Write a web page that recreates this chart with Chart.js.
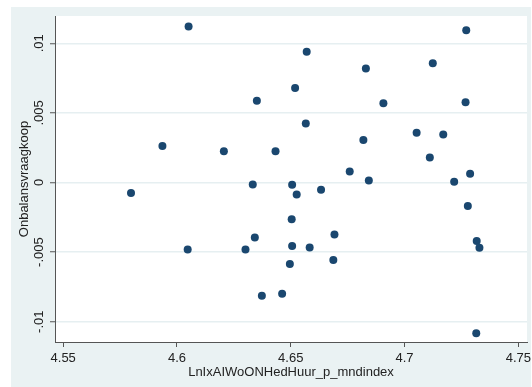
<!DOCTYPE html>
<html>
<head>
<meta charset="utf-8">
<script src="https://cdn.jsdelivr.net/npm/chart.js@4/dist/chart.umd.min.js"></script>
<style>
  html, body { margin: 0; padding: 0; background: #fff; }
  #wrap { width: 532px; height: 387px; }
</style>
</head>
<body>
<div id="wrap"><canvas id="scatterChart" width="532" height="387"></canvas></div>
<script>
// data
const xValues = [4.6051, 4.5798, 4.5936, 4.6206, 4.6351, 4.6333, 4.6433, 4.7271, 4.6570, 4.6830,
                 4.7124, 4.6519, 4.6907, 4.7268, 4.6566, 4.7053, 4.7170, 4.6819, 4.7111, 4.6759,
                 4.6843, 4.7288, 4.7218, 4.6506, 4.6526, 4.6633, 4.6047, 4.6301, 4.6342, 4.6373,
                 4.7278, 4.6504, 4.6692, 4.7317, 4.7329, 4.6506, 4.6583, 4.6496, 4.6687, 4.6462,
                 4.7315];
const yValues = [0.01121, -0.00076, 0.00262, 0.00224, 0.00588, -0.00014, 0.00224, 0.01093, 0.00940, 0.00819,
                 0.00857, 0.00678, 0.00569, 0.00576, 0.00424, 0.00357, 0.00345, 0.00305, 0.00179, 0.00079,
                 0.00014, 0.00062, 0.00005, -0.00017, -0.00086, -0.00052, -0.00481, -0.00481, -0.00395, -0.00814,
                 -0.00169, -0.00264, -0.00374, -0.00421, -0.00469, -0.00457, -0.00467, -0.00586, -0.00557, -0.00800,
                 -0.01083];

const xTickValues = [4.55, 4.6, 4.65, 4.7, 4.75];
const xTickLabels = ["4.55", "4.6", "4.65", "4.7", "4.75"];
const yTickValues = [-0.01, -0.005, 0, 0.005, 0.01];
const yTickLabels = ["-.01", "-.005", "0", ".005", ".01"];

const xTitle = "LnIxAIWoONHedHuur_p_mndindex";
const yTitle = "Onbalansvraagkoop";

const axisColor = "#555";
const gridColor = "#e6eff1";
const dotColor = "#1a476f";
const textColor = "#222";
const fontFamily = "'Liberation Sans', Arial, sans-serif";

const points = xValues.map((x, i) => ({ x: x, y: yValues[i] }));

// stata-like background: light outer region, white plot region
const bgPlugin = {
    id: "bg",
    beforeDraw(chart) {
        const c = chart.ctx;
        const a = chart.chartArea;
        c.save();
        c.fillStyle = "#fff";
        c.fillRect(0, 0, chart.width, chart.height);
        c.fillStyle = "#eaf2f3";
        c.fillRect(11, 7, 520, 380);
        c.fillStyle = "#fff";
        c.fillRect(a.left, a.top, a.right - a.left, a.bottom - a.top);
        c.restore();
    }
};

new Chart(document.getElementById("scatterChart").getContext("2d"), {
    type: "scatter",
    data: {
        datasets: [{
            data: points,
            backgroundColor: dotColor,
            borderColor: dotColor,
            borderWidth: 0,
            pointRadius: 4,
            pointHoverRadius: 4
        }]
    },
    options: {
        responsive: false,
        animation: false,
        events: [],
        layout: { padding: { top: 16, right: 5, bottom: 0, left: 0 } },
        scales: {
            x: {
                type: "linear",
                min: 4.5464,
                max: 4.7538,
                afterBuildTicks: (s) => { s.ticks = xTickValues.map(v => ({ value: v })); },
                afterFit: (s) => { s.height = 45; s.paddingLeft = 0; s.paddingRight = 0; },
                ticks: {
                    callback: (v, i) => xTickLabels[i],
                    color: textColor,
                    font: { family: fontFamily, size: 13 },
                    padding: 4,
                    maxRotation: 0,
                    minRotation: 0
                },
                grid: { drawOnChartArea: false, drawTicks: true, tickLength: 5, tickColor: axisColor, tickWidth: 1 },
                border: { display: true, color: axisColor, width: 1 },
                title: {
                    display: true, text: xTitle, color: textColor,
                    font: { family: fontFamily, size: 13 },
                    padding: { top: 0, bottom: 7 }
                }
            },
            y: {
                type: "linear",
                min: -0.011458,
                max: 0.011961,
                afterBuildTicks: (s) => { s.ticks = yTickValues.map(v => ({ value: v })); },
                afterFit: (s) => { s.width = 55; s.paddingTop = 0; s.paddingBottom = 0; },
                ticks: {
                    callback: (v, i) => yTickLabels[i],
                    color: textColor,
                    font: { family: fontFamily, size: 13 },
                    padding: -4,
                    minRotation: 90,
                    maxRotation: 90,
                    crossAlign: "center"
                },
                grid: { color: gridColor, lineWidth: 1.5, drawTicks: true, tickLength: 5, tickColor: axisColor, tickWidth: 1 },
                border: { display: true, color: axisColor, width: 1 },
                title: {
                    display: true, text: yTitle, color: textColor,
                    font: { family: fontFamily, size: 13 },
                    padding: { top: 17, bottom: 0 }
                }
            }
        },
        plugins: {
            legend: { display: false },
            tooltip: { enabled: false }
        }
    },
    plugins: [bgPlugin]
});
</script>
</body>
</html>
